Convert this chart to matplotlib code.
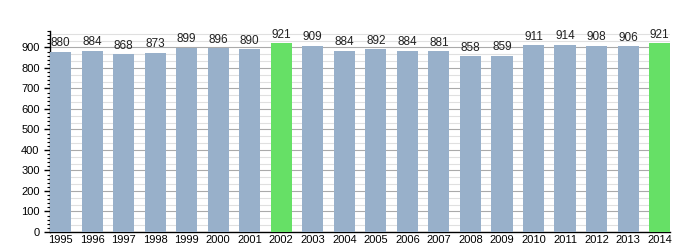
import matplotlib.pyplot as plt
import numpy as np
from matplotlib.ticker import MultipleLocator

plt.rcParams["font.family"] = ["Liberation Sans", "DejaVu Sans"]

years = [str(y) for y in range(1995, 2015)]
values = [880, 884, 868, 873, 899, 896, 890, 921, 909, 884,
          892, 884, 881, 858, 859, 911, 914, 908, 906, 921]
highlight = ["2002", "2014"]

bar_color = "#98b0ca"
hi_color = "#66e066"
colors = [hi_color if y in highlight else bar_color for y in years]

fig = plt.figure(figsize=(7, 2.5), dpi=100)
ax = fig.add_axes([0.0714, 0.072, 0.886, 0.804])

x = range(len(years))
ax.bar(x, values, width=0.67, color=colors, zorder=3)

# value labels above each bar
for i, v in enumerate(values):
    ax.text(i, v + 12, str(v), ha="center", va="bottom", fontsize=8.5, color="#222222")

ax.set_xlim(-0.335, len(years) - 0.665)
ax.set_ylim(0, 980)
ax.set_xticks(list(x))
ax.set_xticklabels(years, fontsize=8)
ax.yaxis.set_major_locator(MultipleLocator(100))
ax.yaxis.set_minor_locator(MultipleLocator(20))
ax.tick_params(axis="y", labelsize=8, length=4, width=1, colors="black")
ax.tick_params(axis="y", which="minor", length=2, width=0.8)
ax.tick_params(axis="x", length=0, pad=2)

# darker lines every 100, light lines in between (thirds)
ax.grid(axis="y", which="major", color="#aaaaaa", linewidth=0.8, zorder=0)
for yv in np.arange(0, 980, 100 / 3):
    if round(yv) % 100:
        ax.axhline(yv, color="#e0e0e0", linewidth=0.8, zorder=0)
ax.set_axisbelow(True)

for side in ["top", "right"]:
    ax.spines[side].set_visible(False)
ax.spines["left"].set_linewidth(1)
ax.spines["bottom"].set_linewidth(1)

fig.savefig("out.png", dpi=100)
